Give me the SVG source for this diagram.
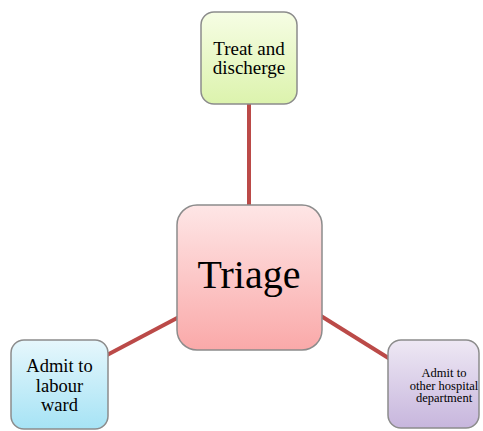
<svg xmlns="http://www.w3.org/2000/svg" width="483" height="431" viewBox="0 0 483 431">
<style>
.box{stroke:#8c8c8c;stroke-width:1.5}
.lbl{font-family:"Liberation Serif","Times New Roman",serif;fill:#000;text-anchor:middle}
.conn{stroke:#bb4a48;stroke-width:4;fill:none}
</style>
<defs>
<linearGradient id="gGreen" x1="0" y1="0" x2="0" y2="1"><stop offset="0" stop-color="#f6fde4"/><stop offset="1" stop-color="#dcf3ad"/></linearGradient>
<linearGradient id="gRed" x1="0" y1="0" x2="0" y2="1"><stop offset="0" stop-color="#fee6e6"/><stop offset="1" stop-color="#faa9a9"/></linearGradient>
<linearGradient id="gBlue" x1="0" y1="0" x2="0" y2="1"><stop offset="0" stop-color="#e6f7fc"/><stop offset="1" stop-color="#a6e3f5"/></linearGradient>
<linearGradient id="gPurple" x1="0" y1="0" x2="0" y2="1"><stop offset="0" stop-color="#eee8f4"/><stop offset="1" stop-color="#c7b6dd"/></linearGradient>
</defs>
<g id="connectors">
<line class="conn" x1="249" y1="104" x2="249" y2="206"/>
<line class="conn" x1="179" y1="317" x2="107" y2="355"/>
<line class="conn" x1="321" y1="316" x2="390" y2="359"/>
</g>
<g id="treat">
<rect class="box" x="201" y="12" width="96" height="92" rx="13" fill="url(#gGreen)"/>
<text class="lbl" x="249" y="54.5" font-size="19">Treat and</text>
<text class="lbl" x="249" y="73.5" font-size="19">discherge</text>
</g>
<g id="triage">
<rect class="box" x="177" y="205" width="145" height="145" rx="20" fill="url(#gRed)"/>
<text class="lbl" x="249" y="288" font-size="40">Triage</text>
</g>
<g id="labour">
<rect class="box" x="11" y="340" width="97" height="89" rx="13" fill="url(#gBlue)"/>
<text class="lbl" x="59.5" y="372" font-size="18.5">Admit to</text>
<text class="lbl" x="59.5" y="392" font-size="18.5">labour</text>
<text class="lbl" x="59.5" y="411" font-size="18.5">ward</text>
</g>
<g id="other">
<rect class="box" x="388" y="340" width="91" height="88" rx="13" fill="url(#gPurple)"/>
<text class="lbl" x="444" y="377" font-size="12.5">Admit to</text>
<text class="lbl" x="444" y="389.5" font-size="12.5">other hospital</text>
<text class="lbl" x="444" y="402" font-size="12.5">department</text>
</g>
</svg>
